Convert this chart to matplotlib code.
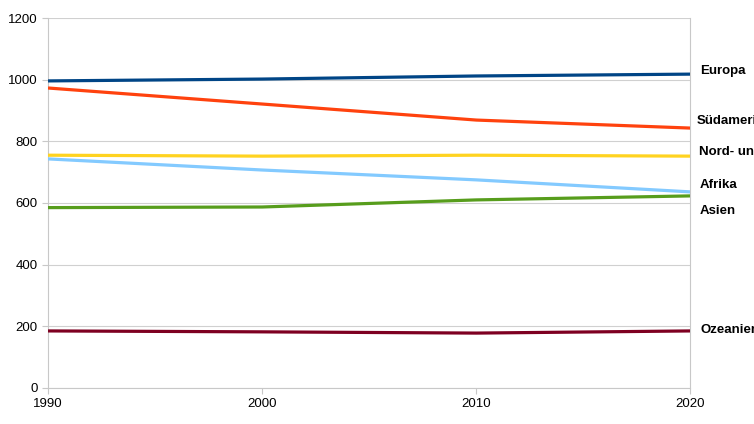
import matplotlib
matplotlib.use("Agg")
import matplotlib.pyplot as plt

# data
years = [1990, 2000, 2010, 2020]
series_names = ["Europa", "Südamerika", "Nord- und Mittelamerika", "Afrika", "Asien", "Ozeanien"]
europa = [996, 1002, 1012, 1018]
suedamerika = [973, 921, 869, 843]
nordamerika = [755, 752, 755, 752]
afrika = [743, 707, 675, 636]
asien = [585, 587, 610, 623]
ozeanien = [185, 182, 178, 185]
y_ticks = [0, 200, 400, 600, 800, 1000, 1200]

series = [europa, suedamerika, nordamerika, afrika, asien, ozeanien]
colors = ["#004586", "#ff420e", "#ffd320", "#83caff", "#579d1c", "#7e0021"]
# vertical nudge of end labels (points) so they don't collide
label_dy = [2.5, 5, 3, 5, -11, 1]
label_dx = [7, 4.5, 6.5, 6.5, 7, 7]

fig = plt.figure(figsize=(7.54, 4.24), dpi=100)
ax = fig.add_axes([0.0637, 0.085, 0.852, 0.8725])

for vals, col in zip(series, colors):
    ax.plot(years, vals, color=col, linewidth=2.3, solid_capstyle="butt", zorder=3)

for name, vals, dx, dy in zip(series_names, series, label_dx, label_dy):
    ax.annotate(name, xy=(years[-1], vals[-1]), xytext=(dx, dy),
                textcoords="offset points", ha="left", va="center",
                fontsize=9.5, fontweight="bold",
                family=["Liberation Sans", "DejaVu Sans"],
                annotation_clip=False, clip_on=False)

ax.set_xlim(years[0], years[-1])
ax.set_ylim(0, 1200)
ax.set_xticks(years)
ax.set_yticks(y_ticks)
ax.yaxis.grid(True, color="#d0d0d0", linewidth=0.8)
ax.set_axisbelow(True)

ax.spines["top"].set_visible(False)
for side in ["left", "right", "bottom"]:
    ax.spines[side].set_color("#c8c8c8")
    ax.spines[side].set_linewidth(0.8)

ax.tick_params(axis="both", colors="#c8c8c8", labelcolor="black",
               length=4, width=0.8, labelsize=9.5)
for lbl in ax.get_xticklabels() + ax.get_yticklabels():
    lbl.set_family("Liberation Sans")

fig.savefig("out.png", dpi=100)
